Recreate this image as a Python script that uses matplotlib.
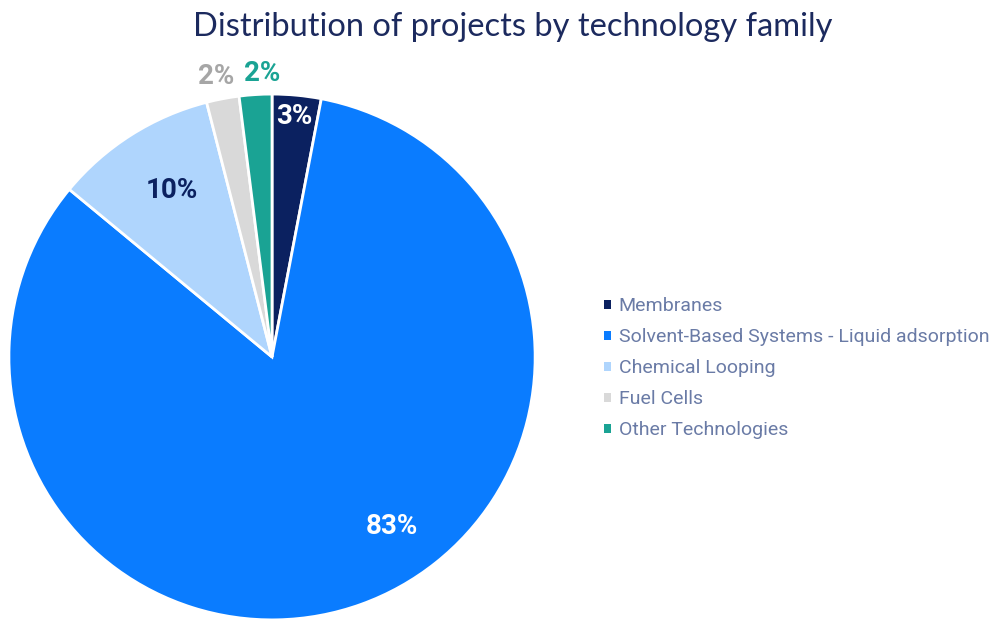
import matplotlib
matplotlib.use("Agg")
import matplotlib.pyplot as plt
import numpy as np
from matplotlib.patches import Patch

# data
labels = ["Membranes", "Solvent-Based Systems - Liquid adsorption",
          "Chemical Looping", "Fuel Cells", "Other Technologies"]
shares = [3, 83, 10, 2, 2]
colors = ["#0b2160", "#0a7cff", "#afd5fd", "#d9d9d9", "#1aa394"]
label_colors = ["white", "white", "#0b2160", "#a6a6a6", "#1aa394"]
# label radius and angular shift (deg) per slice
label_r = [0.92, 0.79, 0.74, 1.086, 1.08]
label_shift = [0, 15.6, -1.5, 0.5, -1.6]

plt.rcParams['font.family'] = ['Roboto', 'DejaVu Sans']

fig = plt.figure(figsize=(9.91, 6.23), dpi=100, facecolor='white')
ax = fig.add_axes([0.009, 0.005, 0.531, 0.844])

wedges, _ = ax.pie(shares, colors=colors, startangle=90, counterclock=False,
                   radius=1, wedgeprops=dict(edgecolor='white', linewidth=2))
ax.set_xlim(-1, 1)
ax.set_ylim(-1, 1)
ax.set_aspect('auto')
ax.axis('off')

for w, s, c, r, sh in zip(wedges, shares, label_colors, label_r, label_shift):
    ang = np.deg2rad((w.theta1 + w.theta2) / 2 + sh)
    ax.text(r * np.cos(ang), r * np.sin(ang), f"{s}%", ha='center', va='center',
            fontsize=20, fontweight='bold', color=c, clip_on=False)

fig.suptitle("Distribution of projects by technology family", x=0.517, y=0.98,
             va='top', fontsize=23.5, color='#1c2a5e',
             family=['Lato', 'DejaVu Sans'])

handles = [Patch(facecolor=c, edgecolor='none') for c in colors]
leg = fig.legend(handles, labels, loc='center left', bbox_to_anchor=(0.592, 0.409),
                 frameon=False, fontsize=14, handlelength=0.35, handleheight=0.35,
                 handletextpad=0.4, labelspacing=0.67, labelcolor='#6a7ba6')

fig.savefig("out.png", dpi=100, facecolor='white')
